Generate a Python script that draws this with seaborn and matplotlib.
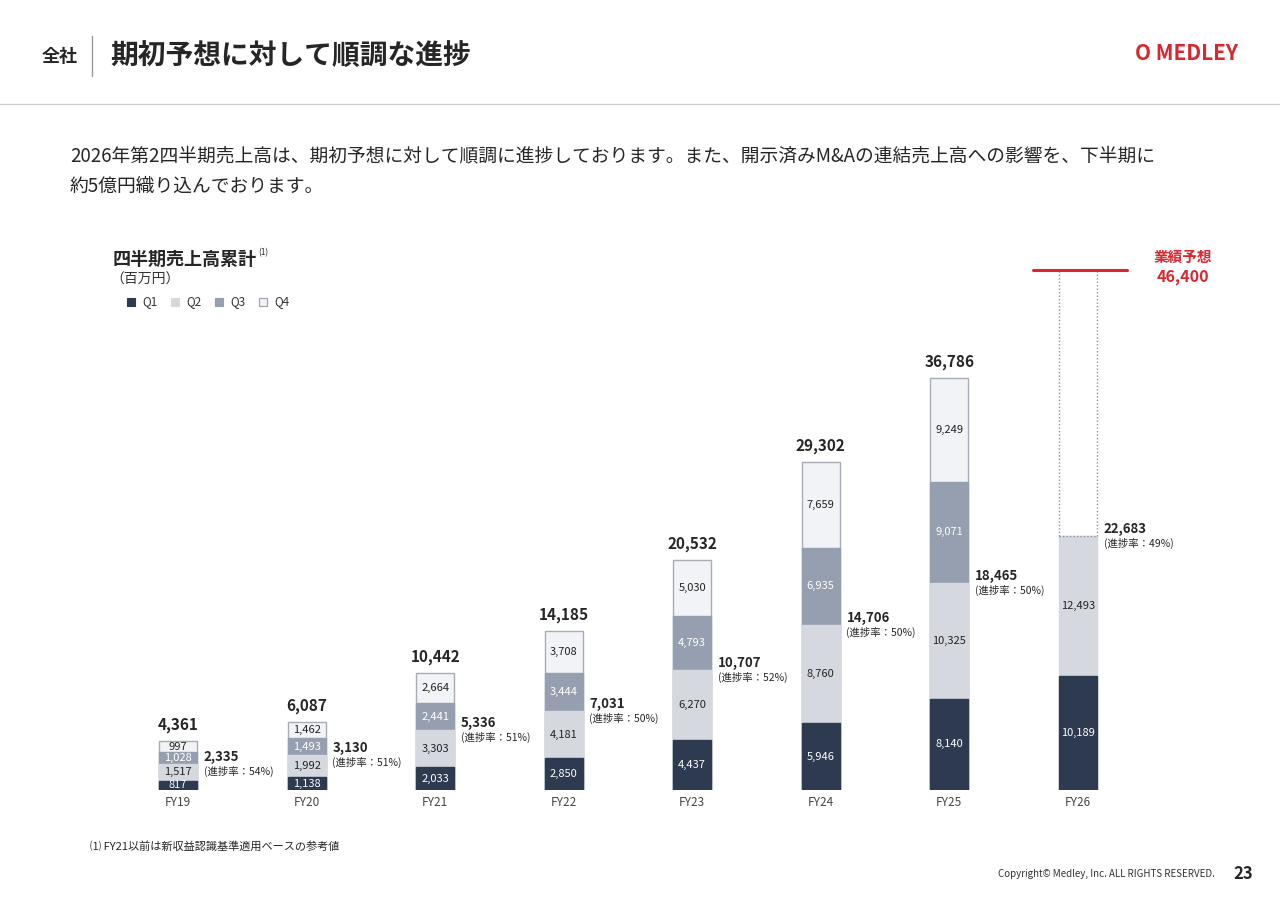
import numpy as np
import pandas as pd
import seaborn as sns
import matplotlib.pyplot as plt
from matplotlib.patches import Rectangle

sns.set_style("white")
plt.rcParams['font.family'] = ['Noto Sans CJK JP', 'DejaVu Sans']

# データ
years = ['FY19', 'FY20', 'FY21', 'FY22', 'FY23', 'FY24', 'FY25', 'FY26']
q1 = [817, 1138, 2033, 2850, 4437, 5946, 8140, 10189]
q2 = [1517, 1992, 3303, 4181, 6270, 8760, 10325, 12493]
q3 = [1028, 1493, 2441, 3444, 4793, 6935, 9071, np.nan]
q4 = [997, 1462, 2664, 3708, 5030, 7659, 9249, np.nan]
h1_totals = [2335, 3130, 5336, 7031, 10707, 14706, 18465, 22683]
progress = ['54%', '51%', '51%', '50%', '52%', '50%', '50%', '49%']
totals = [4361, 6087, 10442, 14185, 20532, 29302, 36786, np.nan]
forecast = 46400

colors = ['#2d3a4f', '#d5d9df', '#959faf', '#f2f3f7']
txt_colors = ['white', '#222222', 'white', '#222222']

fig = plt.figure(figsize=(12.8, 9.05), dpi=100)
W, H = 1280, 905

# ヘッダー
fig.text(42 / W, 1 - 56 / H, '全社', fontsize=13, fontweight='bold', va='center')
fig.add_artist(plt.Line2D([92 / W, 92 / W], [1 - 36 / H, 1 - 76 / H], color='#999999', lw=1))
fig.text(110 / W, 1 - 56 / H, '期初予想に対して順調な進捗', fontsize=20, fontweight='bold', va='center')
fig.text(1135 / W, 1 - 54 / H, 'O MEDLEY', fontsize=15, color='#d7282f', fontweight='bold', va='center')
fig.add_artist(plt.Line2D([0, 1], [1 - 104 / H, 1 - 104 / H], color='#cccccc', lw=1))
fig.text(70 / W, 1 - 156 / H, '2026年第2四半期売上高は、期初予想に対して順調に進捗しております。また、開示済みM&Aの連結売上高への影響を、下半期に',
         fontsize=13.5, va='center')
fig.text(70 / W, 1 - 186 / H, '約5億円織り込んでおります。', fontsize=13.5, va='center')

fig.text(113 / W, 1 - 259 / H, '四半期売上高累計', fontsize=13, fontweight='bold', va='center')
fig.text(258 / W, 1 - 253 / H, '(1)', fontsize=6, va='center')
fig.text(110 / W, 1 - 280 / H, '（百万円）', fontsize=10, va='center', color='#333333')
for i, lab in enumerate(['Q1', 'Q2', 'Q3', 'Q4']):
    x0 = (127 + i * 44) / W
    fig.add_artist(Rectangle((x0, 1 - 306 / H), 8 / W, 8 / H, facecolor=colors[i],
                             edgecolor='#9aa0a8' if i == 3 else colors[i], lw=0.8))
    fig.text(x0 + 15 / W, 1 - 302 / H, lab, fontsize=8.5, va='center', color='#333333')

fig.text(90 / W, 1 - 846 / H, '⑴ FY21以前は新収益認識基準適用ベースの参考値', fontsize=8, va='center')
fig.text(1215 / W, 1 - 874 / H, 'Copyright© Medley, Inc. ALL RIGHTS RESERVED.', fontsize=7, ha='right', va='center', color='#333333')
fig.text(1253 / W, 1 - 874 / H, '23', fontsize=12, fontweight='bold', ha='right', va='center')

# グラフ
ax = fig.add_axes([100 / W, 1 - 790 / H, 1100 / W, 550 / H])
df = pd.DataFrame({'year': years, 'q1': q1, 'q2': q2, 'q3': q3, 'q4': q4})
cum = df[['q1', 'q2', 'q3', 'q4']].cumsum(axis=1)
cum.loc[7, ['q3', 'q4']] = np.nan
bw = 0.296
for k in [3, 2, 1, 0]:
    col = ['q1', 'q2', 'q3', 'q4'][k]
    sns.barplot(x=df['year'], y=cum[col], color=colors[k], width=bw, saturation=1,
                edgecolor='#a8adb5' if k == 3 else colors[k], linewidth=1, ax=ax)

ax.set_xlim(-0.607, 7.95)
ax.set_ylim(0, 49100)
ax.set_xlabel('')
ax.set_ylabel('')
ax.set_yticks([])
ax.tick_params(axis='x', length=0, labelsize=8.5, colors='#444444', pad=4)
sns.despine(ax=ax, left=True, bottom=True)

vals = [q1, q2, q3, q4]
for i in range(len(years)):
    base = 0
    for k in range(4):
        v = vals[k][i]
        if np.isnan(v):
            continue
        ax.text(i, base + v / 2, f'{int(v):,}', ha='center', va='center', fontsize=8, color=txt_colors[k])
        base += v
    if not np.isnan(totals[i]):
        ax.text(i, totals[i] + 700, f'{int(totals[i]):,}', ha='center', va='bottom', fontsize=11, fontweight='bold')
    h1 = q1[i] + q2[i]
    ax.text(i + 0.2, h1, f'{h1_totals[i]:,}', ha='left', va='bottom', fontsize=9.5, fontweight='bold')
    ax.text(i + 0.2, h1 - 150, f'(進捗率：{progress[i]})', ha='left', va='top', fontsize=7.5)

# FY26 予想
x26 = 7
h1 = q1[7] + q2[7]
for xx in [x26 - bw / 2, x26 + bw / 2]:
    ax.plot([xx, xx], [h1, forecast], color='#8a9099', ls=(0, (1, 1.5)), lw=1)
ax.plot([x26 - bw / 2, x26 + bw / 2], [h1, h1], color='#8a9099', ls=(0, (1, 1.5)), lw=1)
ax.plot([x26 - 0.35, x26 + 0.38], [forecast, forecast], color='#d7282f', lw=2.2)
ax.text(x26 + 0.82, forecast + 450, '業績予想', ha='center', va='bottom', fontsize=10.5, fontweight='bold', color='#d7282f')
ax.text(x26 + 0.82, forecast + 150, '46,400', ha='center', va='top', fontsize=11.5, fontweight='bold', color='#d7282f')

fig.savefig('out.png', dpi=100)
